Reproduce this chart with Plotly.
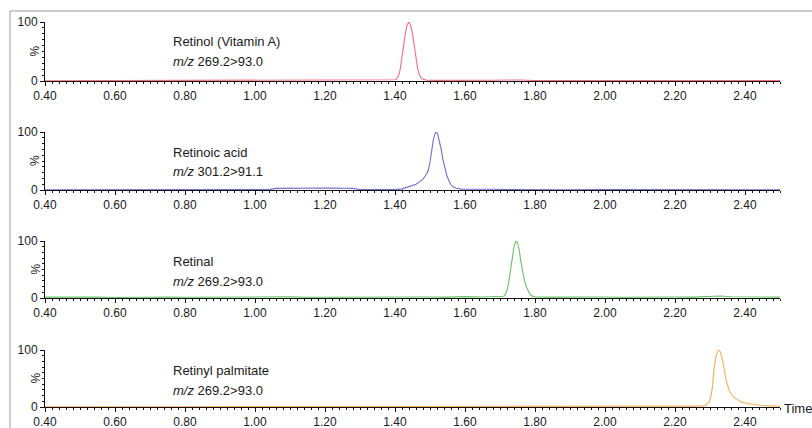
import plotly.graph_objects as go

# ---------------- data ----------------
retinol_t = [0.40, 0.50, 0.60, 0.70, 0.80, 0.90, 1.00, 1.10, 1.20, 1.30, 1.36, 1.39, 1.40, 1.405,
             1.41, 1.415, 1.42, 1.425, 1.43, 1.435, 1.44, 1.445, 1.45, 1.455, 1.46, 1.465, 1.47,
             1.475, 1.48, 1.49, 1.52, 1.60, 1.68, 1.72, 1.74, 1.76, 1.80, 1.90, 2.00, 2.10, 2.20,
             2.30, 2.40, 2.50]
retinol_y = [0.5, 0.6, 0.9, 0.7, 0.8, 1.0, 1.3, 0.9, 0.8, 0.7, 0.9, 1.2, 2.0, 4.0,
             9.0, 20.0, 38.0, 62.0, 82.0, 96.0, 100.0, 94.0, 80.0, 58.0, 37.0, 20.0, 10.0,
             5.0, 2.8, 1.5, 1.0, 0.8, 1.2, 1.8, 2.2, 1.6, 0.9, 0.8, 1.0, 0.8, 0.9,
             0.8, 1.0, 0.8]

retinoic_t = [0.40, 0.50, 0.60, 0.70, 0.75, 0.78, 0.90, 1.00, 1.04, 1.06, 1.10, 1.14, 1.18, 1.20,
              1.22, 1.26, 1.28, 1.30, 1.38, 1.40, 1.42, 1.44, 1.46, 1.47, 1.48, 1.49, 1.495, 1.50,
              1.505, 1.51, 1.515, 1.518, 1.522, 1.527, 1.532, 1.537, 1.542, 1.548, 1.554, 1.56,
              1.567, 1.575, 1.59, 1.62, 1.66, 1.68, 1.72, 1.80, 1.84, 1.90, 2.00, 2.10, 2.20,
              2.30, 2.40, 2.50]
retinoic_y = [0.3, 0.4, 0.4, 0.5, 1.2, 0.5, 0.6, 0.7, 0.8, 2.8, 3.0, 3.2, 3.5, 4.5,
              3.4, 3.0, 2.8, 0.8, 0.6, 0.8, 2.0, 6.0, 10.0, 14.0, 19.0, 27.0, 34.0, 48.0,
              70.0, 88.0, 98.0, 100.0, 96.0, 85.0, 70.0, 52.0, 38.0, 25.0, 16.0, 9.0,
              5.0, 3.0, 1.5, 1.0, 1.6, 1.2, 0.8, 0.3, 0.0, 0.5, 0.6, 0.5, 0.4,
              0.5, 0.4, 0.5]

retinal_t = [0.40, 0.45, 0.50, 0.55, 0.60, 0.65, 0.70, 0.75, 0.80, 0.85, 0.90, 0.95, 1.00, 1.05,
             1.10, 1.15, 1.20, 1.25, 1.30, 1.35, 1.40, 1.45, 1.50, 1.55, 1.60, 1.65, 1.70, 1.71,
             1.715, 1.72, 1.725, 1.73, 1.735, 1.74, 1.745, 1.747, 1.75, 1.755, 1.76, 1.765, 1.77,
             1.775, 1.78, 1.785, 1.79, 1.80, 1.85, 1.90, 1.95, 2.00, 2.05, 2.10, 2.15, 2.20,
             2.25, 2.30, 2.33, 2.36, 2.40, 2.45, 2.50]
retinal_y = [1.5, 1.8, 1.2, 1.5, 1.0, 1.6, 1.3, 1.8, 1.2, 1.4, 1.7, 1.3, 1.8, 1.5,
             1.9, 1.4, 1.6, 2.0, 1.5, 2.2, 1.7, 2.3, 1.8, 1.6, 2.5, 1.7, 2.0, 3.0,
             6.0, 14.0, 28.0, 50.0, 72.0, 90.0, 99.0, 100.0, 97.0, 84.0, 62.0, 44.0, 30.0,
             20.0, 12.0, 7.0, 4.0, 2.0, 1.5, 2.0, 1.6, 1.8, 1.4, 1.9, 1.5, 1.8,
             1.6, 2.4, 3.5, 2.2, 1.8, 2.0, 1.6]

palmitate_t = [0.40, 1.00, 1.68, 1.70, 1.78, 1.80, 2.20, 2.26, 2.28, 2.29, 2.298, 2.303, 2.307,
               2.312, 2.318, 2.323, 2.326, 2.33, 2.336, 2.341, 2.346, 2.355, 2.362, 2.37, 2.38,
               2.389, 2.40, 2.417, 2.441, 2.47, 2.50]
palmitate_y = [0.3, 0.3, 0.3, 1.0, 1.0, 0.3, 0.3, 0.8, 1.5, 4.0, 9.0, 20.0, 35.0,
               70.0, 90.0, 99.0, 100.0, 96.0, 82.0, 64.0, 47.0, 29.0, 21.0, 16.0, 12.0,
               9.0, 7.0, 5.0, 3.0, 2.0, 1.2]

names = ["Retinol (Vitamin A)", "Retinoic acid", "Retinal", "Retinyl palmitate"]
transitions = ["269.2>93.0", "301.2>91.1", "269.2>93.0", "269.2>93.0"]
colors = ["#f0707e", "#6e6ed2", "#66c266", "#f8ae5e"]
series_t = [retinol_t, retinoic_t, retinal_t, palmitate_t]
series_y = [retinol_y, retinoic_y, retinal_y, palmitate_y]

# ---------------- layout geometry ----------------
W, H = 812, 428
x_left, x_right = 45, 780
panel_px = [(22, 81), (132, 190), (241, 298), (350, 407)]  # (top, bottom) in px

font_family = "Liberation Sans, Arial, sans-serif"
fig = go.Figure()
layout = dict(
    template="none",
    width=W, height=H, margin=dict(l=0, r=0, t=0, b=0, pad=0, autoexpand=False),
    paper_bgcolor="white", plot_bgcolor="white", showlegend=False,
    font=dict(family=font_family, size=12, color="#1a1a1a"),
)
annotations = []

for i in range(4):
    sfx = "" if i == 0 else str(i + 1)
    fig.add_trace(go.Scatter(
        x=series_t[i], y=series_y[i], mode="lines",
        line=dict(color=colors[i], width=1.1),
        xaxis="x" + sfx, yaxis="y" + sfx, hoverinfo="skip",
    ))
    top, bot = panel_px[i]
    layout["xaxis" + sfx] = dict(
        domain=[x_left / W, x_right / W], range=[0.40, 2.50], automargin=False,
        anchor="y" + sfx, showgrid=False, zeroline=False,
        showline=True, linecolor="#111", linewidth=1,
        tick0=0.40, dtick=0.2, tickformat=".2f",
        ticks="outside", ticklen=4, tickcolor="#111", tickwidth=1,
        minor=dict(dtick=0.02, tick0=0.40, ticks="outside", ticklen=2, tickcolor="#111"),
        tickfont=dict(size=12, family=font_family), layer="below traces",
        fixedrange=True,
    )
    layout["yaxis" + sfx] = dict(
        domain=[1 - bot / H, 1 - top / H], range=[0, 100], automargin=False,
        anchor="x" + sfx, showgrid=False, zeroline=False,
        showline=True, linecolor="#111", linewidth=1,
        tickvals=[0, 100], ticktext=["0", "100"],
        ticks="outside", ticklen=4, tickcolor="#111",
        minor=dict(dtick=10, ticks="outside", ticklen=2, tickcolor="#111"),
        tickfont=dict(size=12, family=font_family), layer="below traces",
        fixedrange=True,
    )
    mid = (top + bot) / 2
    annotations.append(dict(
        text="%", textangle=-90, x=35 / W, y=1 - mid / H, xref="paper", yref="paper",
        showarrow=False, font=dict(size=12), xanchor="center", yanchor="middle",
    ))
    annotations.append(dict(
        text=names[i], x=171 / W, y=1 - (top + 20) / H, xref="paper", yref="paper",
        showarrow=False, font=dict(size=13), xanchor="left", yanchor="middle",
    ))
    annotations.append(dict(
        text="<i>m/z</i> " + transitions[i], x=171 / W, y=1 - (top + 40) / H,
        xref="paper", yref="paper",
        showarrow=False, font=dict(size=13), xanchor="left", yanchor="middle",
    ))

annotations.append(dict(
    text="Time", x=782 / W, y=1 - 408 / H, xref="paper", yref="paper",
    showarrow=False, font=dict(size=13), xanchor="left", yanchor="middle",
))
layout["annotations"] = annotations
layout["shapes"] = [dict(
    type="rect", xref="paper", yref="paper",
    x0=10 / W, x1=1.2, y0=-0.2, y1=1 - 11 / H,
    line=dict(color="#9a9a9a", width=1), fillcolor="rgba(0,0,0,0)", layer="below",
)]
fig.update_layout(**layout)
fig.write_html("out.html")
